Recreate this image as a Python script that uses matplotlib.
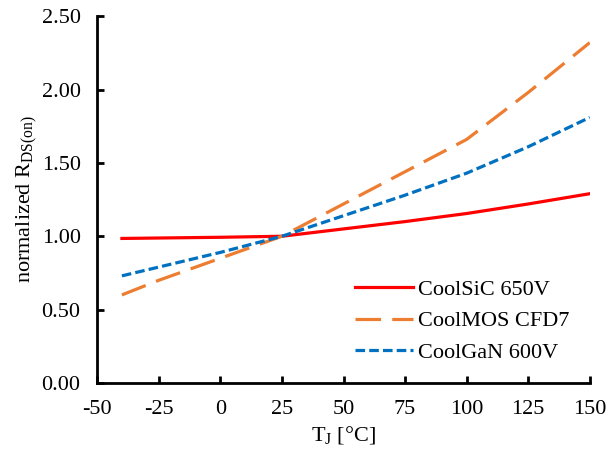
import numpy as np
import matplotlib
matplotlib.use("Agg")
import matplotlib.pyplot as plt

plt.rcParams['font.family'] = ['Liberation Serif', 'DejaVu Serif']
plt.rcParams['mathtext.fontset'] = 'custom'
plt.rcParams['mathtext.rm'] = 'Liberation Serif'
plt.rcParams['mathtext.it'] = 'Liberation Serif:italic'
plt.rcParams['axes.unicode_minus'] = False

# junction temperature [degC]
temp = [-40, -25, 0, 25, 50, 75, 100, 125, 150]

# normalized RDS(on)
sic = [0.985, 0.988, 0.993, 1.00, 1.05, 1.10, 1.155, 1.22, 1.29]
mos = [0.60, 0.70, 0.85, 1.00, 1.22, 1.44, 1.66, 1.98, 2.32]
gan = [0.73, 0.79, 0.89, 1.00, 1.14, 1.28, 1.43, 1.61, 1.81]

fig = plt.figure(figsize=(6.08, 4.5), dpi=100)
ax = fig.add_axes([0.16, 0.149, 0.81, 0.815])

ax.plot(temp, sic, color='#ff0000', lw=2.3, label='CoolSiC 650V')
ax.plot(temp, mos, color='#ed7d31', lw=2.3, dashes=(8, 3.5), label='CoolMOS CFD7')
ax.plot(temp, gan, color='#0070c0', lw=2.3, dashes=(3, 1.3), label='CoolGaN 600V')

ax.set_xlim(-50, 150)
ax.set_ylim(0, 2.5)
ax.set_xticks(np.arange(-50, 151, 25))
ax.set_yticks(np.arange(0, 2.51, 0.5))
ax.set_yticklabels(['%.2f' % v for v in np.arange(0, 2.51, 0.5)])

for s in ['top', 'right']:
    ax.spines[s].set_visible(False)
for s in ['left', 'bottom']:
    ax.spines[s].set_linewidth(2)
ax.tick_params(direction='in', width=2, length=5, labelsize=16, pad=12)

ax.set_xlabel(r'T$_\mathrm{J}$ [°C]', fontsize=16, labelpad=4)
ax.set_ylabel(r'normalized R$_\mathrm{DS(on)}$', fontsize=16, labelpad=2)

ax.legend(loc='lower right', bbox_to_anchor=(1.0, 0.0), frameon=False,
          fontsize=16, handlelength=2.6, handletextpad=0.25, labelspacing=0.5)

fig.savefig('out.png', dpi=100)
